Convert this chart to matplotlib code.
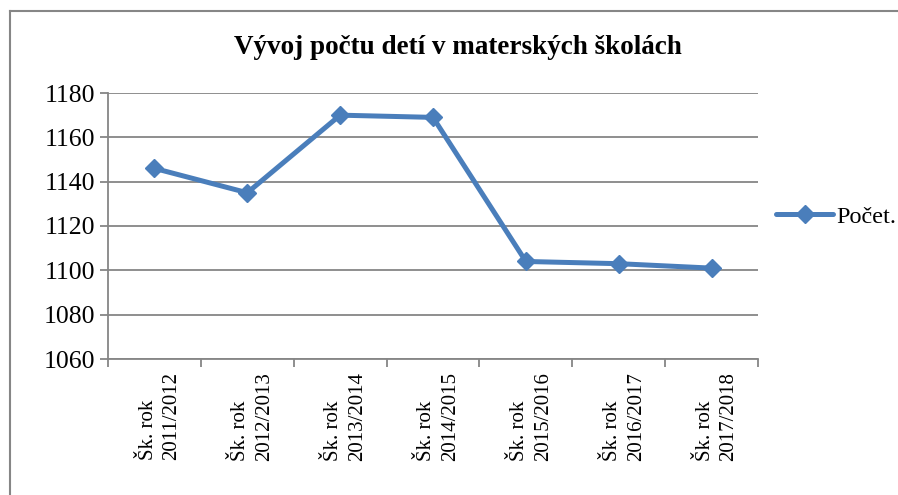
import matplotlib
matplotlib.use("Agg")
import matplotlib.pyplot as plt
from matplotlib.lines import Line2D

categories = ["Šk. rok\n2011/2012", "Šk. rok\n2012/2013", "Šk. rok\n2013/2014",
              "Šk. rok\n2014/2015", "Šk. rok\n2015/2016", "Šk. rok\n2016/2017",
              "Šk. rok\n2017/2018"]
values = [1146, 1135, 1170, 1169, 1104, 1103, 1101]
series_name = "Počet."
title = "Vývoj počtu detí v materských školách"
yticks = [1060, 1080, 1100, 1120, 1140, 1160, 1180]

plt.rcParams['font.family'] = ['Liberation Serif', 'DejaVu Serif']

W, H = 898, 495
fig = plt.figure(figsize=(W / 100, H / 100), dpi=100)
ax = fig.add_axes([108 / W, 1 - 359 / H, (758 - 108) / W, (359 - 93) / H])

blue = "#4A7EBB"
grid = "#868686"
x = list(range(len(values)))
ax.plot(x, values, color=blue, lw=3.6, marker='D', ms=9, mec=blue, mfc=blue,
        solid_joinstyle='round', solid_capstyle='round', label=series_name, zorder=3)

ax.set_xlim(-0.5, len(values) - 0.5)
ax.set_ylim(1060, 1180)
ax.set_yticks(yticks)
ax.set_yticklabels([str(v) for v in yticks], fontsize=18.5)
ax.yaxis.grid(True, color=grid, lw=1.3)
ax.set_axisbelow(True)

# category boundary ticks
ax.set_xticks([i - 0.5 for i in range(len(values) + 1)])
ax.set_xticklabels([])
ax.tick_params(axis='x', length=6, color=grid, width=1.3)
ax.tick_params(axis='y', length=6, color=grid, width=1.3, pad=3)
for i, lab in enumerate(categories):
    ax.text(i + 0.06, -0.05, lab, transform=ax.get_xaxis_transform(), rotation=90,
            ha='center', va='top', multialignment='left', fontsize=15,
            linespacing=1.35)

for s in ['top', 'right']:
    ax.spines[s].set_visible(False)
for s in ['left', 'bottom']:
    ax.spines[s].set_color(grid)
    ax.spines[s].set_linewidth(1.3)

fig.text(458 / W, 1 - 47 / H, title, ha='center', va='center',
         fontsize=19.5, fontweight='bold')

handle = Line2D([], [], color=blue, lw=3.6, marker='D', ms=9, mec=blue, mfc=blue,
                solid_capstyle='round')
fig.legend([handle], [series_name], loc='center left',
           bbox_to_anchor=(776 / W, 1 - 217 / H), frameon=False, fontsize=17.5,
           handlelength=2.35, handletextpad=0.15, borderpad=0, borderaxespad=0)

# outer chart border (clipped at right and bottom)
bx, by = 9.5 / W, 1 - 11 / H
fig.add_artist(Line2D([bx, bx], [0, by], transform=fig.transFigure, color=grid, lw=1.5))
fig.add_artist(Line2D([bx, 1], [by, by], transform=fig.transFigure, color=grid, lw=1.5))

fig.savefig("out.png", dpi=100)
